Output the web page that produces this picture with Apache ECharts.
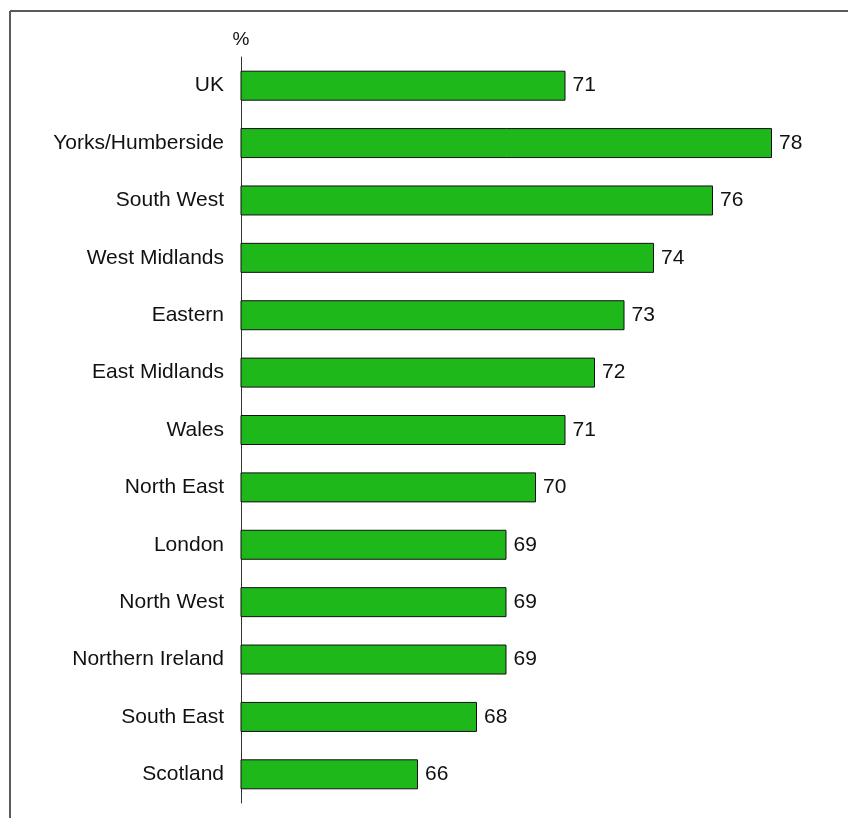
<!DOCTYPE html>
<html>
<head>
<meta charset="utf-8">
<style>
  html, body { margin: 0; padding: 0; background: #ffffff; }
  #chart { width: 848px; height: 818px; }
</style>
<script src="https://cdn.jsdelivr.net/npm/echarts@6/dist/echarts.min.js"></script>
</head>
<body>
<div id="chart"></div>
<script>
// Regions, listed top to bottom
const regions = [
  'UK', 'Yorks/Humberside', 'South West', 'West Midlands', 'Eastern',
  'East Midlands', 'Wales', 'North East', 'London', 'North West',
  'Northern Ireland', 'South East', 'Scotland'
];
// Percentage for each region
const percentages = [71, 78, 76, 74, 73, 72, 71, 70, 69, 69, 69, 68, 66];
const axisUnit = '%';

const FONT = 'Liberation Sans';

const chart = echarts.init(document.getElementById('chart'), null, { renderer: 'canvas' });

chart.setOption({
  backgroundColor: '#ffffff',
  animation: false,
  textStyle: { fontFamily: FONT },
  grid: { left: 241, right: 17, top: 57, bottom: 15, containLabel: false },
  xAxis: {
    type: 'value',
    min: 60,
    max: 80,
    show: false
  },
  yAxis: {
    type: 'category',
    data: regions,
    inverse: true,
    name: axisUnit,
    nameLocation: 'start',
    nameGap: 8,
    nameTextStyle: { fontSize: 19, color: '#111', align: 'center', fontFamily: FONT },
    axisLine: { show: true, lineStyle: { color: '#333', width: 1 } },
    axisTick: { show: false },
    axisLabel: { fontSize: 21, color: '#111', margin: 17, fontFamily: FONT },
    splitLine: { show: false }
  },
  series: [{
    type: 'bar',
    data: percentages,
    barWidth: 30,
    itemStyle: { color: '#1fb81a', borderColor: '#111', borderWidth: 1 },
    label: {
      show: true,
      position: 'right',
      distance: 7,
      fontSize: 21,
      color: '#111',
      fontFamily: FONT
    }
  }],
  graphic: [
    { type: 'line', shape: { x1: 10, y1: 11, x2: 848, y2: 11 }, style: { stroke: '#5a5a5a', lineWidth: 2 } },
    { type: 'line', shape: { x1: 10, y1: 11, x2: 10, y2: 818 }, style: { stroke: '#5a5a5a', lineWidth: 2 } }
  ]
});
</script>
</body>
</html>
